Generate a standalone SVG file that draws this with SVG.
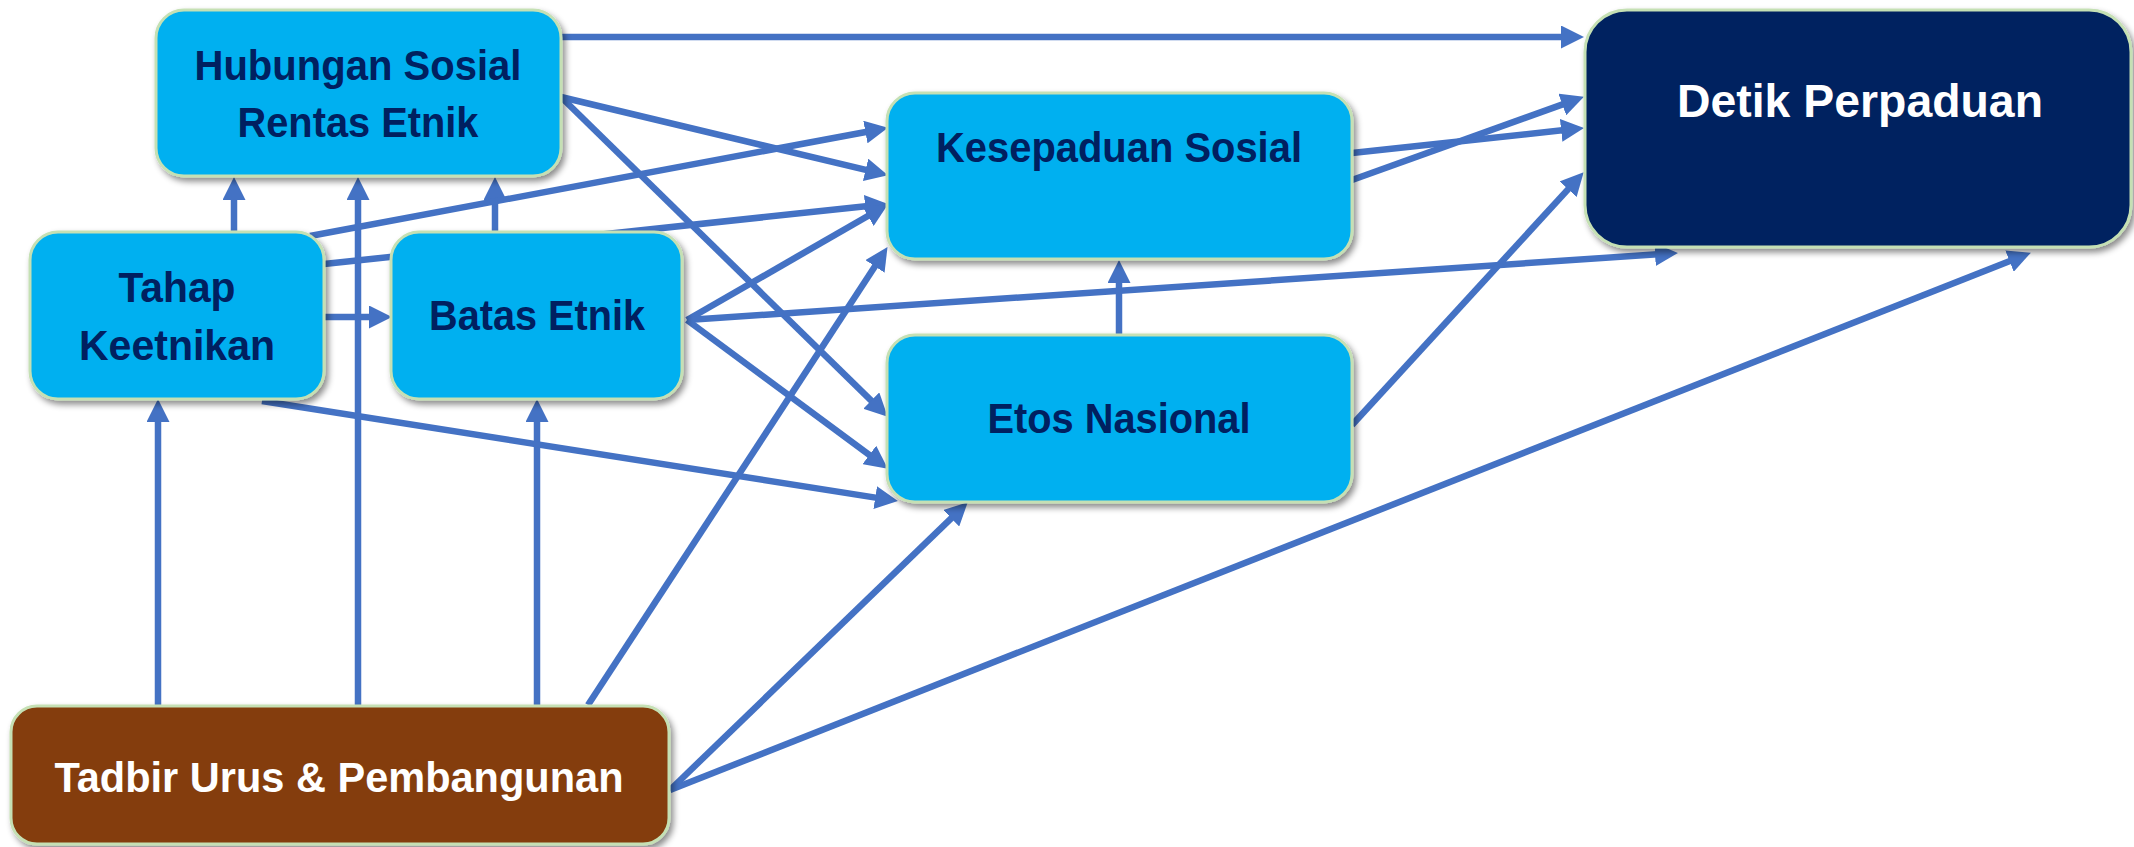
<svg xmlns="http://www.w3.org/2000/svg" width="2134" height="847" viewBox="0 0 2134 847">
<style>
.c{fill:none;stroke:#4472C4;stroke-width:6.5;marker-end:url(#ah)}
.bx{stroke:#C5E0B4;stroke-width:3;filter:url(#sh)}
.lb{fill:#00B0F0}
.t{font-family:"Liberation Sans",Arial,sans-serif;font-weight:bold;text-anchor:middle}
.dk{fill:#002060;font-size:42px}
.wh{fill:#FFFFFF}
</style>
<defs>
<filter id="sh" x="-10%" y="-10%" width="125%" height="130%">
<feDropShadow dx="3" dy="4" stdDeviation="3" flood-color="#000" flood-opacity="0.45"/>
</filter>
<marker id="ah" markerUnits="userSpaceOnUse" markerWidth="23" markerHeight="23" refX="10" refY="11.5" orient="auto">
<path d="M0,0 L23,11.5 L0,23 Z" fill="#4472C4"/>
</marker>
</defs>
<rect width="2134" height="847" fill="#FFFFFF"/>
<g id="connectors">
<path class="c" d="M561,37 L1571,37"/>
<path class="c" d="M561,97 L875.3,172.2"/>
<path class="c" d="M561,97 L878.4,407.6"/>
<path class="c" d="M234,231 L234,190"/>
<path class="c" d="M495,231 L495,190"/>
<path class="c" d="M358,705 L358,190"/>
<path class="c" d="M158,705 L158,412"/>
<path class="c" d="M537,705 L537,412"/>
<path class="c" d="M310,236 L875.2,130.2"/>
<path class="c" d="M324,264 L875.1,205.3"/>
<path class="c" d="M324,317 L379,317"/>
<path class="c" d="M262,401 L885.1,499.1"/>
<path class="c" d="M687,320 L876.6,211"/>
<path class="c" d="M687,320 L877.4,460.9"/>
<path class="c" d="M687,320 L1665,253.8"/>
<path class="c" d="M588,705 L880.4,258"/>
<path class="c" d="M670,790 L958.4,511.3"/>
<path class="c" d="M670,790 L2018.8,257.4"/>
<path class="c" d="M1352,153 L1571.1,129.3"/>
<path class="c" d="M1352,180 L1571.7,101.1"/>
<path class="c" d="M1119,335 L1119,273"/>
<path class="c" d="M1352,425 L1574.9,181.9"/>
</g>
<g id="node-hubungan">
<rect class="bx lb" x="156" y="10" width="405" height="166" rx="28"/>
<text class="t dk" x="358" y="80" textLength="327" lengthAdjust="spacingAndGlyphs">Hubungan Sosial</text>
<text class="t dk" x="358" y="137" textLength="241" lengthAdjust="spacingAndGlyphs">Rentas Etnik</text>
</g>
<g id="node-tahap">
<rect class="bx lb" x="30" y="232" width="294" height="167" rx="28"/>
<text class="t dk" x="177" y="302" textLength="117" lengthAdjust="spacingAndGlyphs">Tahap</text>
<text class="t dk" x="177" y="360" textLength="196" lengthAdjust="spacingAndGlyphs">Keetnikan</text>
</g>
<g id="node-batas">
<rect class="bx lb" x="391" y="232" width="291" height="167" rx="28"/>
<text class="t dk" x="537" y="330" textLength="216" lengthAdjust="spacingAndGlyphs">Batas Etnik</text>
</g>
<g id="node-kesepaduan">
<rect class="bx lb" x="887" y="93" width="465" height="166" rx="28"/>
<text class="t dk" x="1119" y="162" textLength="366" lengthAdjust="spacingAndGlyphs">Kesepaduan Sosial</text>
</g>
<g id="node-etos">
<rect class="bx lb" x="887" y="335" width="465" height="167" rx="28"/>
<text class="t dk" x="1119" y="433" textLength="263" lengthAdjust="spacingAndGlyphs">Etos Nasional</text>
</g>
<g id="node-detik">
<rect class="bx" x="1585" y="10" width="546" height="237" rx="42" fill="#002060"/>
<text class="t wh" x="1860" y="117" font-size="47" textLength="366" lengthAdjust="spacingAndGlyphs">Detik Perpaduan</text>
</g>
<g id="node-tadbir">
<rect class="bx" x="11" y="706" width="658" height="138" rx="26" fill="#843C0C"/>
<text class="t wh" x="339" y="792" font-size="42" textLength="569" lengthAdjust="spacingAndGlyphs">Tadbir Urus &amp; Pembangunan</text>
</g>
</svg>
